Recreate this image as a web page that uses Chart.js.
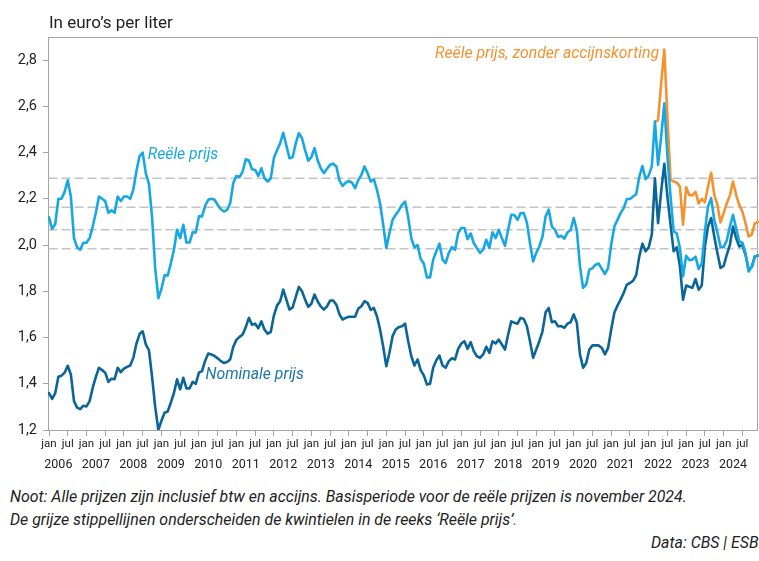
<!DOCTYPE html>
<html lang="nl">
<head>
<meta charset="utf-8">
<script src="https://cdn.jsdelivr.net/npm/chart.js@4.4.0/dist/chart.umd.min.js"></script>
<style>
  body { margin: 0; width: 759px; height: 561px; overflow: hidden; position: relative; background: #fff; font-family: Roboto, sans-serif; color: #222; }
  #wrap { position: absolute; left: 0; top: 0; width: 759px; height: 480px; }
  .noot { position: absolute; left: 10px; top: 485px; font-style: italic; font-size: 15.9px; line-height: 23px; white-space: nowrap; }
  .bron { position: absolute; left: 651px; top: 533px; font-style: italic; font-size: 15.9px; white-space: nowrap; }
</style>
</head>
<body>
<div id="wrap"><canvas id="grafiek" width="759" height="480"></canvas></div>
<div class="noot">Noot: Alle prijzen zijn inclusief btw en accijns. Basisperiode voor de reële prijzen is november 2024.<br>De grijze stippellijnen onderscheiden de kwintielen in de reeks ‘Reële prijs’<span style="color:#e0353f">.</span></div>
<div class="bron">Data: CBS | ESB</div>
<script>
// maanden jan 2006 t/m dec 2024
const maanden = [];
for (let jaar = 2006; jaar <= 2024; jaar++) {
    for (let m = 1; m <= 12; m++) maanden.push(jaar + '-' + String(m).padStart(2, '0'));
}

// Reële prijs (euro per liter, prijspeil november 2024)
const reelePrijs = [
    2.12, 2.07, 2.09, 2.20, 2.20, 2.23, 2.28, 2.21, 2.03, 1.99, 1.98, 2.01,     // 2006
    2.01, 2.03, 2.08, 2.14, 2.21, 2.20, 2.19, 2.14, 2.15, 2.14, 2.21, 2.19,     // 2007
    2.21, 2.21, 2.20, 2.24, 2.32, 2.385, 2.40, 2.31, 2.265, 2.12, 1.90, 1.77,   // 2008
    1.81, 1.87, 1.868, 1.92, 1.98, 2.066, 2.03, 2.088, 2.011, 2.011, 2.055, 2.055, // 2009
    2.124, 2.124, 2.17, 2.196, 2.20, 2.196, 2.174, 2.155, 2.145, 2.152, 2.18, 2.268, // 2010
    2.299, 2.294, 2.318, 2.371, 2.366, 2.328, 2.325, 2.299, 2.332, 2.289, 2.275, 2.289, // 2011
    2.376, 2.41, 2.44, 2.486, 2.43, 2.376, 2.38, 2.44, 2.484, 2.462, 2.411, 2.365, // 2012
    2.38, 2.419, 2.368, 2.332, 2.311, 2.33, 2.347, 2.352, 2.34, 2.279, 2.256, 2.27, // 2013
    2.277, 2.27, 2.246, 2.28, 2.303, 2.34, 2.311, 2.275, 2.285, 2.239, 2.18, 2.088, // 2014
    1.987, 2.052, 2.109, 2.131, 2.15, 2.174, 2.188, 2.12, 2.03, 1.99, 2.0, 1.94, // 2015
    1.92, 1.86, 1.86, 1.937, 1.973, 2.006, 1.937, 1.922, 1.966, 1.991, 1.98, 2.052, // 2016
    2.074, 2.074, 2.026, 2.05, 2.009, 1.987, 1.966, 1.98, 2.023, 1.987, 2.055, 2.03, // 2017
    2.066, 2.03, 1.997, 2.066, 2.131, 2.13, 2.109, 2.138, 2.138, 2.098, 2.009, 1.929, // 2018
    1.966, 1.994, 2.037, 2.124, 2.153, 2.08, 2.066, 2.035, 2.04, 2.028, 2.055, 2.064, // 2019
    2.117, 2.064, 1.908, 1.815, 1.83, 1.894, 1.90, 1.915, 1.92, 1.897, 1.875, 1.90, // 2020
    2.001, 2.08, 2.109, 2.138, 2.16, 2.199, 2.199, 2.21, 2.22, 2.296, 2.342, 2.285, // 2021
    2.30, 2.34, 2.534, 2.347, 2.469, 2.613, 2.383, 2.21, 2.059, 2.05, 1.987, 1.865, // 2022
    1.954, 1.935, 1.937, 1.95, 1.897, 1.92, 2.059, 2.167, 2.203, 2.109, 2.055, 1.991, // 2023
    1.991, 2.02, 2.08, 2.131, 2.073, 2.016, 2.01, 1.966, 1.886, 1.906, 1.95, 1.955  // 2024
];

// Nominale prijs
const nominalePrijs = [
    1.36, 1.335, 1.36, 1.43, 1.435, 1.448, 1.478, 1.44, 1.325, 1.297, 1.29, 1.305, // 2006
    1.302, 1.325, 1.383, 1.43, 1.469, 1.459, 1.448, 1.408, 1.422, 1.42, 1.469, 1.45, // 2007
    1.465, 1.473, 1.479, 1.512, 1.574, 1.615, 1.627, 1.57, 1.545, 1.43, 1.30, 1.2, // 2008
    1.24, 1.275, 1.28, 1.318, 1.36, 1.419, 1.376, 1.426, 1.38, 1.38, 1.408, 1.40, // 2009
    1.448, 1.455, 1.50, 1.531, 1.527, 1.52, 1.51, 1.498, 1.49, 1.494, 1.505, 1.56, // 2010
    1.59, 1.603, 1.613, 1.645, 1.685, 1.655, 1.66, 1.64, 1.67, 1.634, 1.617, 1.624, // 2011
    1.695, 1.738, 1.757, 1.807, 1.764, 1.721, 1.73, 1.776, 1.819, 1.80, 1.764, 1.733, // 2012
    1.746, 1.786, 1.757, 1.735, 1.721, 1.735, 1.76, 1.76, 1.742, 1.70, 1.678, 1.685, // 2013
    1.69, 1.69, 1.69, 1.724, 1.735, 1.757, 1.75, 1.719, 1.728, 1.692, 1.635, 1.56, // 2014
    1.476, 1.534, 1.606, 1.635, 1.645, 1.649, 1.66, 1.584, 1.519, 1.479, 1.505, 1.459, // 2015
    1.436, 1.397, 1.40, 1.469, 1.502, 1.522, 1.479, 1.469, 1.498, 1.51, 1.505, 1.551, // 2016
    1.574, 1.584, 1.551, 1.58, 1.541, 1.519, 1.512, 1.527, 1.56, 1.534, 1.584, 1.574, // 2017
    1.591, 1.57, 1.548, 1.613, 1.67, 1.664, 1.66, 1.685, 1.68, 1.649, 1.584, 1.512, // 2018
    1.548, 1.584, 1.627, 1.709, 1.728, 1.666, 1.67, 1.649, 1.649, 1.642, 1.66, 1.666, // 2019
    1.70, 1.664, 1.527, 1.469, 1.49, 1.548, 1.566, 1.566, 1.566, 1.555, 1.527, 1.555, // 2020
    1.635, 1.707, 1.738, 1.764, 1.793, 1.829, 1.836, 1.845, 1.87, 1.951, 2.006, 1.973, // 2021
    1.99, 2.045, 2.289, 2.095, 2.232, 2.351, 2.21, 2.088, 1.973, 1.99, 1.908, 1.764, // 2022
    1.825, 1.82, 1.815, 1.853, 1.807, 1.825, 1.994, 2.08, 2.117, 2.037, 1.966, 1.901, // 2023
    1.91, 1.958, 2.001, 2.08, 2.03, 1.994, 2.0, 1.958, 1.894, 1.905, 1.951, 1.955  // 2024
];

// Reële prijs zonder accijnskorting, vanaf maart 2022
const kortingStart = '2022-03';
const zonderKorting = [
    2.534, 2.54, 2.70, 2.846, 2.555, 2.282, 2.275, 2.27, 2.253, 2.088,          // 2022
    2.25, 2.217, 2.215, 2.23, 2.18, 2.2, 2.185, 2.253, 2.313, 2.217, 2.174, 2.098, // 2023
    2.138, 2.18, 2.215, 2.275, 2.217, 2.174, 2.145, 2.095, 2.037, 2.045, 2.095, 2.10 // 2024
];

// kwintielgrenzen van de reeks 'Reële prijs'
const kwintielen = [2.289, 2.164, 2.066, 1.984];
const yTicks = [1.2, 1.4, 1.6, 1.8, 2.0, 2.2, 2.4, 2.6, 2.8];

const lichtBlauw = '#17a8e3';
const donkerBlauw = '#0b6596';
const oranje = '#f5922f';
const asGrijs = '#a3a3a3';

const startIndex = maanden.indexOf(kortingStart);
const oranjeReeks = maanden.map((m, i) => i < startIndex ? null : zonderKorting[i - startIndex]);

// Labels bij de lijnen (positie in maand-index en euro)
const lijnLabels = [
    { tekst: 'Reële prijs', maand: 31.6, waarde: 2.372, kleur: lichtBlauw, uitlijning: 'left' },
    { tekst: 'Nominale prijs', maand: 50.1, waarde: 1.42, kleur: '#1c76a9', uitlijning: 'left' },
    { tekst: 'Reële prijs, zonder accijnskorting', maand: 195.3, waarde: 2.81, kleur: oranje, uitlijning: 'right' }
];

const tekstPlugin = {
    id: 'teksten',
    beforeDatasetsDraw(chart) {
        const { ctx, chartArea } = chart;
        ctx.save();
        ctx.strokeStyle = asGrijs;
        ctx.lineWidth = 1;
        ctx.strokeRect(Math.round(chartArea.left) - 0.5, Math.round(chartArea.top) + 0.5,
            Math.round(chartArea.right - chartArea.left), Math.round(chartArea.bottom - chartArea.top));
        ctx.restore();
    },
    afterDatasetsDraw(chart) {
        const { ctx } = chart;
        const x = chart.scales.x;
        const y = chart.scales.y;
        ctx.save();
        ctx.font = 'italic 15.8px Roboto';
        ctx.textBaseline = 'alphabetic';
        lijnLabels.forEach(l => {
            ctx.fillStyle = l.kleur;
            ctx.textAlign = l.uitlijning;
            ctx.fillText(l.tekst, x.getPixelForValue(l.maand), y.getPixelForValue(l.waarde));
        });
        // eenheid boven de as
        ctx.fillStyle = '#222';
        ctx.textAlign = 'left';
        ctx.font = '17px Roboto';
        ctx.fillText('In euro’s per liter', chart.chartArea.left, 28);
        ctx.restore();
    }
};

function kwintielLijn(q) {
    return {
        data: [{ x: maanden[0], y: q }, { x: maanden[maanden.length - 1], y: q }],
        borderColor: '#c4c4c4',
        borderWidth: 1.5,
        borderDash: [8, 5],
        pointRadius: 0
    };
}

Chart.defaults.font.family = 'Roboto';

new Chart(document.getElementById('grafiek'), {
    type: 'line',
    data: {
        labels: maanden,
        datasets: [
            { label: 'Reële prijs', data: reelePrijs, borderColor: lichtBlauw, borderWidth: 2.6, pointRadius: 0 },
            { label: 'Reële prijs, zonder accijnskorting', data: oranjeReeks, borderColor: oranje, borderWidth: 2.6, pointRadius: 0 },
            { label: 'Nominale prijs', data: nominalePrijs, borderColor: donkerBlauw, borderWidth: 2.6, pointRadius: 0 },
            ...kwintielen.map(kwintielLijn)
        ]
    },
    options: {
        responsive: false,
        animation: false,
        layout: { padding: { top: 37, right: 1, bottom: 5, left: 0 } },
        plugins: { legend: { display: false }, tooltip: { enabled: false } },
        elements: { line: { tension: 0, borderJoinStyle: 'round', borderCapStyle: 'round' } },
        scales: {
            x: {
                type: 'category',
                offset: false,
                grid: { drawOnChartArea: false, tickLength: 6, color: asGrijs },
                border: { display: false },
                ticks: {
                    autoSkip: false, maxRotation: 0, padding: 1,
                    font: { size: 11.5 }, color: '#222',
                    callback: v => v % 12 === 0 ? 'jan' : 'jul'
                },
                afterBuildTicks: s => { s.ticks = s.ticks.filter(t => t.value % 6 === 0); },
                afterFit: s => { s.height = 19; }
            },
            jaren: {
                type: 'category',
                position: 'bottom',
                offset: false,
                grid: { display: false },
                border: { display: false },
                ticks: {
                    autoSkip: false, maxRotation: 0, padding: 0,
                    font: { size: 12.5 }, color: '#222',
                    callback: v => maanden[v].slice(0, 4)
                },
                afterBuildTicks: s => { s.ticks = s.ticks.filter(t => t.value % 12 === 3); },
                afterFit: s => { s.height = 26; }
            },
            y: {
                min: 1.2,
                max: 2.9,
                grid: { drawOnChartArea: false, tickLength: 6, color: asGrijs },
                border: { display: false },
                ticks: {
                    padding: 6, font: { size: 14.5 }, color: '#222',
                    callback: v => v.toFixed(1).replace('.', ',')
                },
                afterBuildTicks: s => { s.ticks = yTicks.map(v => ({ value: v })); },
                afterFit: s => { s.width = 49; }
            }
        }
    },
    plugins: [tekstPlugin]
});
</script>
</body>
</html>
